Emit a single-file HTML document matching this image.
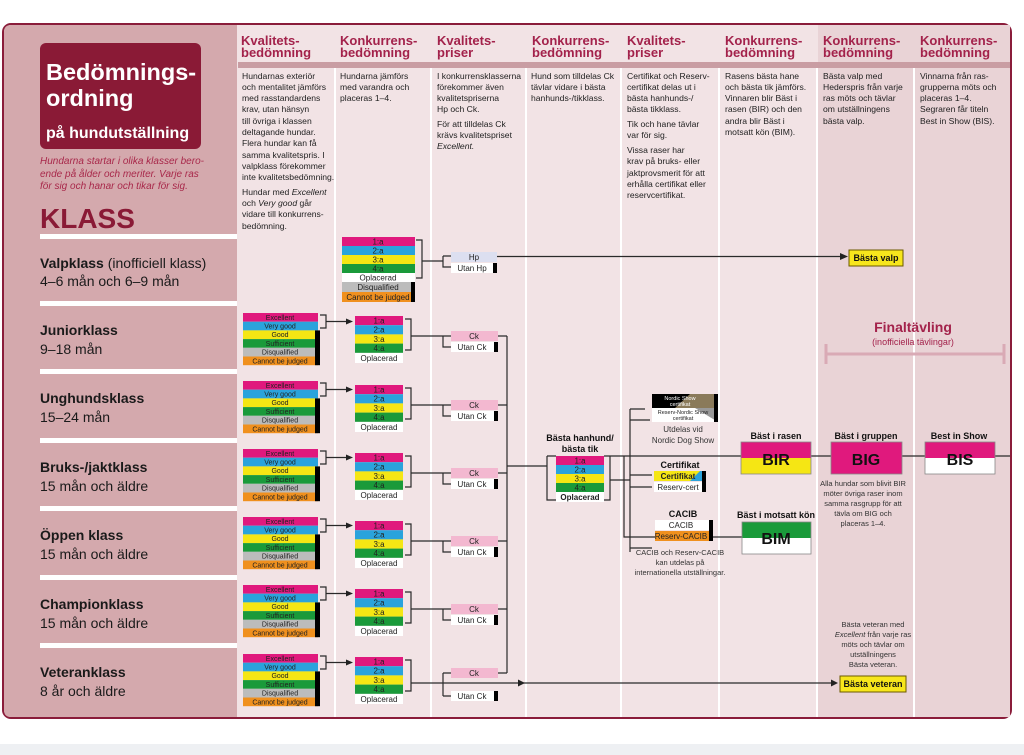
<!DOCTYPE html>
<html><head><meta charset="utf-8"><style>
html,body{margin:0;padding:0;background:#fff;}
svg{display:block;font-family:"Liberation Sans",sans-serif;}
.h{font-weight:bold;font-size:13px;fill:#a3224b;}
.d{font-size:8.6px;fill:#222;}
.q{font-size:7px;text-anchor:middle;fill:#222;}
.p{font-size:8px;text-anchor:middle;fill:#222;}
.b{font-size:9px;font-weight:bold;text-anchor:middle;fill:#111;}
.l{stroke:#2a2a2a;stroke-width:1.2;fill:none;}
.cl{font-size:14px;fill:#1a1a1a;}
</style></head><body>
<svg width="1024" height="755" viewBox="0 0 1024 755">
<rect x="0" y="744" width="1024" height="11" fill="#eef0f3"/>
<!-- frame -->
<rect x="3" y="24" width="1008" height="694" rx="8" fill="#f2e3e5" stroke="#8a1c3a" stroke-width="2"/>
<path d="M11 25 H237 V717 H11 Q4 717 4 710 V32 Q4 25 11 25Z" fill="#d4a9ad"/>
<rect x="818" y="25" width="192" height="692" fill="#e9d3d6"/>
<!-- column separators -->
<g fill="#ffffff">
<rect x="334" y="68" width="2" height="649"/><rect x="430" y="68" width="2" height="649"/>
<rect x="525" y="68" width="2" height="649"/><rect x="620" y="68" width="2" height="649"/>
<rect x="718" y="68" width="2" height="649"/><rect x="816" y="68" width="2" height="649"/>
<rect x="913" y="68" width="2" height="649"/>
</g>
<rect x="238" y="62" width="772" height="6" fill="#c99da3"/>
<!-- headers -->
<text class="h" x="241" y="45">Kvalitets-</text><text class="h" x="241" y="57">bedömning</text>
<text class="h" x="340" y="45">Konkurrens-</text><text class="h" x="340" y="57">bedömning</text>
<text class="h" x="437" y="45">Kvalitets-</text><text class="h" x="437" y="57">priser</text>
<text class="h" x="532" y="45">Konkurrens-</text><text class="h" x="532" y="57">bedömning</text>
<text class="h" x="627" y="45">Kvalitets-</text><text class="h" x="627" y="57">priser</text>
<text class="h" x="725" y="45">Konkurrens-</text><text class="h" x="725" y="57">bedömning</text>
<text class="h" x="823" y="45">Konkurrens-</text><text class="h" x="823" y="57">bedömning</text>
<text class="h" x="920" y="45">Konkurrens-</text><text class="h" x="920" y="57">bedömning</text>
<!-- descriptions -->
<g class="d">
<text x="242" y="79">Hundarnas exteriör</text><text x="242" y="90">och mentalitet jämförs</text><text x="242" y="101">med rasstandardens</text><text x="242" y="112">krav, utan hänsyn</text><text x="242" y="124">till övriga i klassen</text><text x="242" y="135">deltagande hundar.</text><text x="242" y="146">Flera hundar kan få</text><text x="242" y="158">samma kvalitetspris. I</text><text x="242" y="169">valpklass förekommer</text><text x="242" y="180">inte kvalitetsbedömning.</text>
<text x="242" y="195">Hundar med <tspan font-style="italic">Excellent</tspan></text><text x="242" y="206">och <tspan font-style="italic">Very good</tspan> går</text><text x="242" y="217">vidare till konkurrens-</text><text x="242" y="229">bedömning.</text>
<text x="340" y="79">Hundarna jämförs</text><text x="340" y="90">med varandra och</text><text x="340" y="101">placeras 1–4.</text>
<text x="437" y="79">I konkurrensklasserna</text><text x="437" y="90">förekommer även</text><text x="437" y="101">kvalitetspriserna</text><text x="437" y="112">Hp och Ck.</text>
<text x="437" y="127">För att tilldelas Ck</text><text x="437" y="138">krävs kvalitetspriset</text><text x="437" y="149" font-style="italic">Excellent.</text>
<text x="531" y="79">Hund som tilldelas Ck</text><text x="531" y="90">tävlar vidare i bästa</text><text x="531" y="101">hanhunds-/tikklass.</text>
<text x="627" y="79">Certifikat och Reserv-</text><text x="627" y="90">certifikat delas ut i</text><text x="627" y="101">bästa hanhunds-/</text><text x="627" y="112">bästa tikklass.</text>
<text x="627" y="127">Tik och hane tävlar</text><text x="627" y="138">var för sig.</text>
<text x="627" y="153">Vissa raser har</text><text x="627" y="164">krav på bruks- eller</text><text x="627" y="176">jaktprovsmerit för att</text><text x="627" y="187">erhålla certifikat eller</text><text x="627" y="198">reservcertifikat.</text>
<text x="725" y="79">Rasens bästa hane</text><text x="725" y="90">och bästa tik jämförs.</text><text x="725" y="101">Vinnaren blir Bäst i</text><text x="725" y="112">rasen (BIR) och den</text><text x="725" y="124">andra blir Bäst i</text><text x="725" y="135">motsatt kön (BIM).</text>
<text x="823" y="79">Bästa valp med</text><text x="823" y="90">Hederspris från varje</text><text x="823" y="101">ras möts och tävlar</text><text x="823" y="112">om utställningens</text><text x="823" y="124">bästa valp.</text>
<text x="920" y="79">Vinnarna från ras-</text><text x="920" y="90">grupperna möts och</text><text x="920" y="101">placeras 1–4.</text><text x="920" y="112">Segraren får titeln</text><text x="920" y="124">Best in Show (BIS).</text>
</g>
<!-- left panel -->
<rect x="40" y="43" width="161" height="106" rx="6" fill="#8a1a36"/>
<text x="46" y="80" font-size="23.5" font-weight="bold" fill="#fff">Bedömnings-</text>
<text x="46" y="106" font-size="23.5" font-weight="bold" fill="#fff">ordning</text>
<text x="46" y="138" font-size="16" font-weight="bold" fill="#fff">på hundutställning</text>
<g font-size="10" font-style="italic" fill="#a8284a">
<text x="40" y="164">Hundarna startar i olika klasser bero-</text>
<text x="40" y="177">ende på ålder och meriter.  Varje ras</text>
<text x="40" y="189">för sig och hanar och tikar för sig.</text>
</g>
<text x="40" y="228" font-size="28" font-weight="bold" fill="#8a1a36">KLASS</text>
<g fill="#fff">
<rect x="40" y="234" width="197" height="5"/><rect x="40" y="301" width="197" height="5"/>
<rect x="40" y="369" width="197" height="5"/><rect x="40" y="438" width="197" height="5"/>
<rect x="40" y="506" width="197" height="5"/><rect x="40" y="575" width="197" height="5"/>
<rect x="40" y="643" width="197" height="5"/>
</g>
<g class="cl">
<text x="40" y="268"><tspan font-weight="bold">Valpklass</tspan> (inofficiell klass)</text><text x="40" y="286">4–6 mån och 6–9 mån</text>
<text x="40" y="335" font-weight="bold">Juniorklass</text><text x="40" y="354">9–18 mån</text>
<text x="40" y="403" font-weight="bold">Unghundsklass</text><text x="40" y="422">15–24 mån</text>
<text x="40" y="472" font-weight="bold">Bruks-/jaktklass</text><text x="40" y="491">15 mån och äldre</text>
<text x="40" y="540" font-weight="bold">Öppen klass</text><text x="40" y="559">15 mån och äldre</text>
<text x="40" y="609" font-weight="bold">Championklass</text><text x="40" y="628">15 mån och äldre</text>
<text x="40" y="677" font-weight="bold">Veteranklass</text><text x="40" y="696">8 år och äldre</text>
</g>

<!-- Valp -->
<g transform="translate(342,237)">
<rect y="0" width="73" height="9" fill="#e0197d"/><text class="p" x="36" y="7.5">1:a</text>
<rect y="9" width="73" height="9" fill="#2aa3dc"/><text class="p" x="36" y="16.5">2:a</text>
<rect y="18" width="73" height="9" fill="#f5e614"/><text class="p" x="36" y="25.5">3:a</text>
<rect y="27" width="73" height="9" fill="#1a9a3a"/><text class="p" x="36" y="34.5">4:a</text>
<rect y="36" width="73" height="9" fill="#fff"/><text class="p" x="36" y="43.5">Oplacerad</text>
<rect y="45" width="73" height="10" fill="#bcbcbc"/><text class="p" x="36" y="53">Disqualified</text>
<rect y="55" width="73" height="10" fill="#f0901e"/><text class="p" x="36" y="63">Cannot be judged</text>
<rect x="69" y="45" width="4" height="20" fill="#000"/>
<path class="l" d="M74 3 H80 V41 H74 M80 24 H101 M101 19 V30 H109 M101 19 H109"/>
<rect x="109" y="15" width="46" height="10" fill="#dcdff0"/><text class="p" x="132" y="23">Hp</text>
<rect x="109" y="26" width="46" height="10" fill="#fff"/><text class="p" x="130" y="34">Utan Hp</text>
<rect x="151" y="26" width="4" height="10" fill="#000"/>
<path class="l" d="M155 19.5 H500"/><polygon points="498,16 506,19.5 498,23" fill="#222"/>
</g>
<rect x="849" y="250" width="54" height="16" fill="#f7e61c" stroke="#6b5a00" stroke-width="1"/>
<text class="b" x="876" y="261">Bästa valp</text>

<!-- quality groups -->
<g transform="translate(243,313)">
<rect y="0" width="75" height="8.7" fill="#e0197d"/><text class="q" x="37" y="6.8">Excellent</text>
<rect y="8.7" width="75" height="8.7" fill="#2aa3dc"/><text class="q" x="37" y="15.5">Very good</text>
<rect y="17.4" width="75" height="8.7" fill="#f5e614"/><text class="q" x="37" y="24.2">Good</text>
<rect y="26.1" width="75" height="8.7" fill="#1a9a3a"/><text class="q" x="37" y="32.9">Sufficient</text>
<rect y="34.8" width="75" height="8.7" fill="#bcbcbc"/><text class="q" x="37" y="41.6">Disqualified</text>
<rect y="43.5" width="75" height="8.7" fill="#f0901e"/><text class="q" x="37" y="50.3">Cannot be judged</text>
<rect x="72" y="17.4" width="5" height="34.8" fill="#000"/>
<path class="l" d="M77 2 H83 V15 H77 M83 8.5 H104"/><polygon points="103,5.5 110,8.5 103,11.5" fill="#222"/>
</g>
<g transform="translate(243,381)">
<rect y="0" width="75" height="8.7" fill="#e0197d"/><text class="q" x="37" y="6.8">Excellent</text>
<rect y="8.7" width="75" height="8.7" fill="#2aa3dc"/><text class="q" x="37" y="15.5">Very good</text>
<rect y="17.4" width="75" height="8.7" fill="#f5e614"/><text class="q" x="37" y="24.2">Good</text>
<rect y="26.1" width="75" height="8.7" fill="#1a9a3a"/><text class="q" x="37" y="32.9">Sufficient</text>
<rect y="34.8" width="75" height="8.7" fill="#bcbcbc"/><text class="q" x="37" y="41.6">Disqualified</text>
<rect y="43.5" width="75" height="8.7" fill="#f0901e"/><text class="q" x="37" y="50.3">Cannot be judged</text>
<rect x="72" y="17.4" width="5" height="34.8" fill="#000"/>
<path class="l" d="M77 2 H83 V15 H77 M83 8.5 H104"/><polygon points="103,5.5 110,8.5 103,11.5" fill="#222"/>
</g>
<g transform="translate(243,449)">
<rect y="0" width="75" height="8.7" fill="#e0197d"/><text class="q" x="37" y="6.8">Excellent</text>
<rect y="8.7" width="75" height="8.7" fill="#2aa3dc"/><text class="q" x="37" y="15.5">Very good</text>
<rect y="17.4" width="75" height="8.7" fill="#f5e614"/><text class="q" x="37" y="24.2">Good</text>
<rect y="26.1" width="75" height="8.7" fill="#1a9a3a"/><text class="q" x="37" y="32.9">Sufficient</text>
<rect y="34.8" width="75" height="8.7" fill="#bcbcbc"/><text class="q" x="37" y="41.6">Disqualified</text>
<rect y="43.5" width="75" height="8.7" fill="#f0901e"/><text class="q" x="37" y="50.3">Cannot be judged</text>
<rect x="72" y="17.4" width="5" height="34.8" fill="#000"/>
<path class="l" d="M77 2 H83 V15 H77 M83 8.5 H104"/><polygon points="103,5.5 110,8.5 103,11.5" fill="#222"/>
</g>
<g transform="translate(243,517)">
<rect y="0" width="75" height="8.7" fill="#e0197d"/><text class="q" x="37" y="6.8">Excellent</text>
<rect y="8.7" width="75" height="8.7" fill="#2aa3dc"/><text class="q" x="37" y="15.5">Very good</text>
<rect y="17.4" width="75" height="8.7" fill="#f5e614"/><text class="q" x="37" y="24.2">Good</text>
<rect y="26.1" width="75" height="8.7" fill="#1a9a3a"/><text class="q" x="37" y="32.9">Sufficient</text>
<rect y="34.8" width="75" height="8.7" fill="#bcbcbc"/><text class="q" x="37" y="41.6">Disqualified</text>
<rect y="43.5" width="75" height="8.7" fill="#f0901e"/><text class="q" x="37" y="50.3">Cannot be judged</text>
<rect x="72" y="17.4" width="5" height="34.8" fill="#000"/>
<path class="l" d="M77 2 H83 V15 H77 M83 8.5 H104"/><polygon points="103,5.5 110,8.5 103,11.5" fill="#222"/>
</g>
<g transform="translate(243,585)">
<rect y="0" width="75" height="8.7" fill="#e0197d"/><text class="q" x="37" y="6.8">Excellent</text>
<rect y="8.7" width="75" height="8.7" fill="#2aa3dc"/><text class="q" x="37" y="15.5">Very good</text>
<rect y="17.4" width="75" height="8.7" fill="#f5e614"/><text class="q" x="37" y="24.2">Good</text>
<rect y="26.1" width="75" height="8.7" fill="#1a9a3a"/><text class="q" x="37" y="32.9">Sufficient</text>
<rect y="34.8" width="75" height="8.7" fill="#bcbcbc"/><text class="q" x="37" y="41.6">Disqualified</text>
<rect y="43.5" width="75" height="8.7" fill="#f0901e"/><text class="q" x="37" y="50.3">Cannot be judged</text>
<rect x="72" y="17.4" width="5" height="34.8" fill="#000"/>
<path class="l" d="M77 2 H83 V15 H77 M83 8.5 H104"/><polygon points="103,5.5 110,8.5 103,11.5" fill="#222"/>
</g>
<g transform="translate(243,654)">
<rect y="0" width="75" height="8.7" fill="#e0197d"/><text class="q" x="37" y="6.8">Excellent</text>
<rect y="8.7" width="75" height="8.7" fill="#2aa3dc"/><text class="q" x="37" y="15.5">Very good</text>
<rect y="17.4" width="75" height="8.7" fill="#f5e614"/><text class="q" x="37" y="24.2">Good</text>
<rect y="26.1" width="75" height="8.7" fill="#1a9a3a"/><text class="q" x="37" y="32.9">Sufficient</text>
<rect y="34.8" width="75" height="8.7" fill="#bcbcbc"/><text class="q" x="37" y="41.6">Disqualified</text>
<rect y="43.5" width="75" height="8.7" fill="#f0901e"/><text class="q" x="37" y="50.3">Cannot be judged</text>
<rect x="72" y="17.4" width="5" height="34.8" fill="#000"/>
<path class="l" d="M77 2 H83 V15 H77 M83 8.5 H104"/><polygon points="103,5.5 110,8.5 103,11.5" fill="#222"/>
</g>

<!-- placement + Ck groups -->
<g transform="translate(355,316)">
<rect y="0" width="48" height="9.2" fill="#e0197d"/><text class="p" x="24" y="7.5">1:a</text>
<rect y="9.2" width="48" height="9.2" fill="#2aa3dc"/><text class="p" x="24" y="16.7">2:a</text>
<rect y="18.4" width="48" height="9.2" fill="#f5e614"/><text class="p" x="24" y="25.9">3:a</text>
<rect y="27.6" width="48" height="9.2" fill="#1a9a3a"/><text class="p" x="24" y="35.1">4:a</text>
<rect y="37" width="48" height="10" fill="#fff"/><text class="p" x="24" y="45">Oplacerad</text>
<path class="l" d="M50 3 H56 V34 H50 M56 20 H88 M88 20 V31 H96 M88 20 H96 M143 20 H152"/>
<rect x="96" y="15" width="47" height="10" fill="#f3b8d0"/><text class="p" x="119" y="23">Ck</text>
<rect x="96" y="26" width="47" height="10" fill="#fff"/><text class="p" x="117" y="34">Utan Ck</text>
<rect x="139" y="26" width="4" height="10" fill="#000"/>
</g>
<g transform="translate(355,385)">
<rect y="0" width="48" height="9.2" fill="#e0197d"/><text class="p" x="24" y="7.5">1:a</text>
<rect y="9.2" width="48" height="9.2" fill="#2aa3dc"/><text class="p" x="24" y="16.7">2:a</text>
<rect y="18.4" width="48" height="9.2" fill="#f5e614"/><text class="p" x="24" y="25.9">3:a</text>
<rect y="27.6" width="48" height="9.2" fill="#1a9a3a"/><text class="p" x="24" y="35.1">4:a</text>
<rect y="37" width="48" height="10" fill="#fff"/><text class="p" x="24" y="45">Oplacerad</text>
<path class="l" d="M50 3 H56 V34 H50 M56 20 H88 M88 20 V31 H96 M88 20 H96 M143 20 H152"/>
<rect x="96" y="15" width="47" height="10" fill="#f3b8d0"/><text class="p" x="119" y="23">Ck</text>
<rect x="96" y="26" width="47" height="10" fill="#fff"/><text class="p" x="117" y="34">Utan Ck</text>
<rect x="139" y="26" width="4" height="10" fill="#000"/>
</g>
<g transform="translate(355,453)">
<rect y="0" width="48" height="9.2" fill="#e0197d"/><text class="p" x="24" y="7.5">1:a</text>
<rect y="9.2" width="48" height="9.2" fill="#2aa3dc"/><text class="p" x="24" y="16.7">2:a</text>
<rect y="18.4" width="48" height="9.2" fill="#f5e614"/><text class="p" x="24" y="25.9">3:a</text>
<rect y="27.6" width="48" height="9.2" fill="#1a9a3a"/><text class="p" x="24" y="35.1">4:a</text>
<rect y="37" width="48" height="10" fill="#fff"/><text class="p" x="24" y="45">Oplacerad</text>
<path class="l" d="M50 3 H56 V34 H50 M56 20 H88 M88 20 V31 H96 M88 20 H96 M143 20 H152"/>
<rect x="96" y="15" width="47" height="10" fill="#f3b8d0"/><text class="p" x="119" y="23">Ck</text>
<rect x="96" y="26" width="47" height="10" fill="#fff"/><text class="p" x="117" y="34">Utan Ck</text>
<rect x="139" y="26" width="4" height="10" fill="#000"/>
</g>
<g transform="translate(355,521)">
<rect y="0" width="48" height="9.2" fill="#e0197d"/><text class="p" x="24" y="7.5">1:a</text>
<rect y="9.2" width="48" height="9.2" fill="#2aa3dc"/><text class="p" x="24" y="16.7">2:a</text>
<rect y="18.4" width="48" height="9.2" fill="#f5e614"/><text class="p" x="24" y="25.9">3:a</text>
<rect y="27.6" width="48" height="9.2" fill="#1a9a3a"/><text class="p" x="24" y="35.1">4:a</text>
<rect y="37" width="48" height="10" fill="#fff"/><text class="p" x="24" y="45">Oplacerad</text>
<path class="l" d="M50 3 H56 V34 H50 M56 20 H88 M88 20 V31 H96 M88 20 H96 M143 20 H152"/>
<rect x="96" y="15" width="47" height="10" fill="#f3b8d0"/><text class="p" x="119" y="23">Ck</text>
<rect x="96" y="26" width="47" height="10" fill="#fff"/><text class="p" x="117" y="34">Utan Ck</text>
<rect x="139" y="26" width="4" height="10" fill="#000"/>
</g>
<g transform="translate(355,589)">
<rect y="0" width="48" height="9.2" fill="#e0197d"/><text class="p" x="24" y="7.5">1:a</text>
<rect y="9.2" width="48" height="9.2" fill="#2aa3dc"/><text class="p" x="24" y="16.7">2:a</text>
<rect y="18.4" width="48" height="9.2" fill="#f5e614"/><text class="p" x="24" y="25.9">3:a</text>
<rect y="27.6" width="48" height="9.2" fill="#1a9a3a"/><text class="p" x="24" y="35.1">4:a</text>
<rect y="37" width="48" height="10" fill="#fff"/><text class="p" x="24" y="45">Oplacerad</text>
<path class="l" d="M50 3 H56 V34 H50 M56 20 H88 M88 20 V31 H96 M88 20 H96 M143 20 H152"/>
<rect x="96" y="15" width="47" height="10" fill="#f3b8d0"/><text class="p" x="119" y="23">Ck</text>
<rect x="96" y="26" width="47" height="10" fill="#fff"/><text class="p" x="117" y="34">Utan Ck</text>
<rect x="139" y="26" width="4" height="10" fill="#000"/>
</g>
<!-- veteran -->
<g transform="translate(355,657)">
<rect y="0" width="48" height="9.2" fill="#e0197d"/><text class="p" x="24" y="7.5">1:a</text>
<rect y="9.2" width="48" height="9.2" fill="#2aa3dc"/><text class="p" x="24" y="16.7">2:a</text>
<rect y="18.4" width="48" height="9.2" fill="#f5e614"/><text class="p" x="24" y="25.9">3:a</text>
<rect y="27.6" width="48" height="9.2" fill="#1a9a3a"/><text class="p" x="24" y="35.1">4:a</text>
<rect y="37" width="48" height="10" fill="#fff"/><text class="p" x="24" y="45">Oplacerad</text>
<path class="l" d="M50 3 H56 V34 H50 M56 26 H481 M88 16 V39 M88 16 H96 M88 39 H96 M143 16 H152"/>
<polygon points="163,22.5 170,26 163,29.5" fill="#222"/>
<polygon points="476,22.5 483,26 476,29.5" fill="#222"/>
<rect x="96" y="11" width="47" height="10" fill="#f3b8d0"/><text class="p" x="119" y="19">Ck</text>
<rect x="96" y="34" width="47" height="10" fill="#fff"/><text class="p" x="117" y="42">Utan Ck</text>
<rect x="139" y="34" width="4" height="10" fill="#000"/>
</g>
<rect x="840" y="676" width="66" height="16" fill="#f7e61c" stroke="#6b5a00" stroke-width="1"/>
<text class="b" x="873" y="687">Bästa veteran</text>
<g font-size="7.5" fill="#333" text-anchor="middle">
<text x="873" y="627">Bästa veteran med</text>
<text x="873" y="637"><tspan font-style="italic">Excellent</tspan> från varje ras</text>
<text x="873" y="647">möts och tävlar om</text>
<text x="873" y="657">utställningens</text>
<text x="873" y="667">Bästa veteran.</text>
</g>

<!-- merge -->
<path class="l" d="M507 336 V673 M507 466 H547 M547 456 V500 H556 M547 456 H556 M604 456 H1010 M604 500 H610 V456 M610 480 H630 M630 409 V552 M630 409 H645 M630 420 H650 M630 475 H652 M630 487 H652 M630 537 H652 M630 548 H652 M624 456 V537 H742"/>
<text class="b" x="580" y="441">Bästa hanhund/</text><text class="b" x="580" y="452">bästa tik</text>
<g transform="translate(556,456)">
<rect y="0" width="48" height="9" fill="#e0197d"/><text class="p" x="24" y="7.5">1:a</text>
<rect y="9" width="48" height="9" fill="#2aa3dc"/><text class="p" x="24" y="16.5">2:a</text>
<rect y="18" width="48" height="9" fill="#f5e614"/><text class="p" x="24" y="25.5">3:a</text>
<rect y="27" width="48" height="9" fill="#1a9a3a"/><text class="p" x="24" y="34.5">4:a</text>
<rect y="36" width="48" height="10" fill="#fff"/><text class="p" x="24" y="44" font-weight="bold">Oplacerad</text>
</g>
<!-- Nordic -->
<polygon points="652,394 718,394 718,408 652,408" fill="#000"/>
<polygon points="690,394 718,394 718,408 675,408" fill="#8a7a5a"/>
<rect x="652" y="408" width="66" height="14" fill="#fff"/>
<polygon points="695,408 718,408 718,422" fill="#999"/>
<rect x="714" y="394" width="4" height="28" fill="#000"/>
<text x="680" y="400" font-size="5.5" fill="#fff" text-anchor="middle">Nordic Show</text>
<text x="680" y="406" font-size="5.5" fill="#fff" text-anchor="middle">certifikat</text>
<text x="683" y="414" font-size="5.5" fill="#222" text-anchor="middle">Reserv-Nordic Show</text>
<text x="683" y="420" font-size="5.5" fill="#222" text-anchor="middle">certifikat</text>
<text x="683" y="432" font-size="8" fill="#333" text-anchor="middle">Utdelas vid</text>
<text x="683" y="443" font-size="8" fill="#333" text-anchor="middle">Nordic Dog Show</text>
<!-- Certifikat -->
<text class="b" x="680" y="468">Certifikat</text>
<polygon points="660,471 705,471 705,481 690,481" fill="#2aa3dc"/>
<polygon points="654,471 700,471 690,481 654,481" fill="#f5e614"/>
<rect x="654" y="482" width="51" height="10" fill="#fff"/>
<rect x="702" y="471" width="4" height="21" fill="#000"/>
<text class="p" x="678" y="479" font-weight="bold">Certifikat</text>
<text class="p" x="678" y="490">Reserv-cert</text>
<!-- CACIB -->
<text class="b" x="683" y="517">CACIB</text>
<rect x="655" y="520" width="57" height="10" fill="#fff"/>
<rect x="655" y="531" width="57" height="10" fill="#f0901e"/>
<rect x="709" y="520" width="4" height="21" fill="#000"/>
<text class="p" x="681" y="528">CACIB</text>
<text class="p" x="681" y="539">Reserv-CACIB</text>
<g font-size="7.5" fill="#333" text-anchor="middle">
<text x="680" y="555">CACIB och Reserv-CACIB</text>
<text x="680" y="565">kan utdelas på</text>
<text x="680" y="575">internationella utställningar.</text>
</g>
<!-- BIR BIM BIG BIS -->
<text class="b" x="776" y="439">Bäst i rasen</text>
<rect x="741" y="442" width="70" height="16" fill="#e0197d"/><rect x="741" y="458" width="70" height="16" fill="#f5e614"/>
<rect x="741" y="442" width="70" height="32" fill="none" stroke="#888" stroke-width="0.8"/>
<text x="776" y="465" font-size="16" font-weight="bold" text-anchor="middle" fill="#111">BIR</text>
<text class="b" x="776" y="518">Bäst i motsatt kön</text>
<rect x="742" y="522" width="69" height="16" fill="#1a9a3a"/><rect x="742" y="538" width="69" height="16" fill="#fff"/>
<rect x="742" y="522" width="69" height="32" fill="none" stroke="#888" stroke-width="0.8"/>
<text x="776" y="544" font-size="16" font-weight="bold" text-anchor="middle" fill="#111">BIM</text>
<text class="b" x="866" y="439">Bäst i gruppen</text>
<rect x="831" y="442" width="71" height="32" fill="#e0197d" stroke="#888" stroke-width="0.8"/>
<text x="866" y="465" font-size="16" font-weight="bold" text-anchor="middle" fill="#111">BIG</text>
<g font-size="7.5" fill="#333" text-anchor="middle">
<text x="863" y="486">Alla hundar som blivit BIR</text>
<text x="863" y="496">möter övriga raser inom</text>
<text x="863" y="506">samma rasgrupp för att</text>
<text x="863" y="516">tävla om BIG och</text>
<text x="863" y="526">placeras 1–4.</text>
</g>
<text class="b" x="959" y="439">Best in Show</text>
<rect x="925" y="442" width="70" height="16" fill="#e0197d"/><rect x="925" y="458" width="70" height="16" fill="#fff"/>
<rect x="925" y="442" width="70" height="32" fill="none" stroke="#888" stroke-width="0.8"/>
<text x="960" y="465" font-size="16" font-weight="bold" text-anchor="middle" fill="#111">BIS</text>
<!-- Finaltävling -->
<text x="913" y="332" font-size="14" font-weight="bold" fill="#a3224b" text-anchor="middle">Finaltävling</text>
<text x="913" y="345" font-size="9" fill="#a3224b" text-anchor="middle">(inofficiella tävlingar)</text>
<path d="M825 354 H1005 M826 344 V364 M1004 344 V364" stroke="#d9aab5" stroke-width="3" fill="none"/>
</svg>
</body></html>
